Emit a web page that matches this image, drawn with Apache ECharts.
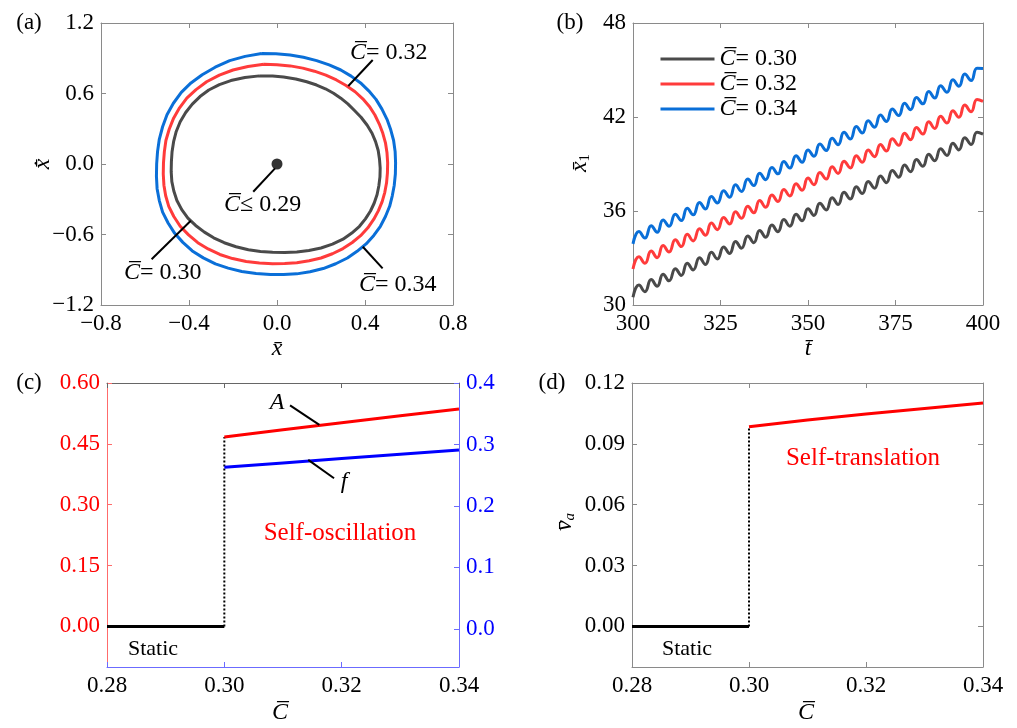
<!DOCTYPE html>
<html><head><meta charset="utf-8">
<script src="https://cdn.jsdelivr.net/npm/echarts@6/dist/echarts.min.js"></script>
<style>html,body{margin:0;padding:0;background:#fff}#c{width:1017px;height:728px}</style>
</head><body><div id="c"></div>
<script>
// ---------- Panel (a): phase portraits (x, xdot) ----------
const orbit030 = [[-0.080,0.750],[-0.020,0.748],[0.030,0.740],[0.085,0.724],[0.135,0.700],[0.180,0.672],[0.220,0.640],[0.257,0.602],[0.290,0.560],[0.322,0.512],[0.350,0.460],[0.382,0.398],[0.410,0.330],[0.432,0.262],[0.448,0.190],[0.460,0.115],[0.466,0.040],[0.469,-0.035],[0.468,-0.110],[0.463,-0.185],[0.455,-0.260],[0.442,-0.332],[0.425,-0.400],[0.402,-0.467],[0.375,-0.530],[0.340,-0.588],[0.300,-0.640],[0.252,-0.682],[0.200,-0.715],[0.145,-0.736],[0.090,-0.748],[0.035,-0.753],[-0.020,-0.752],[-0.075,-0.744],[-0.130,-0.730],[-0.186,-0.704],[-0.240,-0.670],[-0.288,-0.628],[-0.330,-0.580],[-0.370,-0.523],[-0.405,-0.460],[-0.433,-0.388],[-0.455,-0.310],[-0.469,-0.230],[-0.478,-0.150],[-0.481,-0.065],[-0.480,0.020],[-0.477,0.105],[-0.470,0.190],[-0.458,0.277],[-0.440,0.360],[-0.415,0.438],[-0.385,0.510],[-0.350,0.574],[-0.310,0.630],[-0.262,0.675],[-0.210,0.710],[-0.146,0.736],[-0.080,0.750]];
const orbit032 = [[-0.060,0.848],[0.000,0.845],[0.060,0.835],[0.117,0.816],[0.170,0.790],[0.222,0.756],[0.270,0.715],[0.314,0.668],[0.355,0.615],[0.390,0.555],[0.420,0.490],[0.445,0.417],[0.465,0.340],[0.481,0.261],[0.493,0.180],[0.500,0.095],[0.503,0.010],[0.502,-0.075],[0.498,-0.160],[0.490,-0.241],[0.478,-0.320],[0.461,-0.397],[0.440,-0.470],[0.413,-0.543],[0.380,-0.610],[0.342,-0.668],[0.300,-0.720],[0.252,-0.764],[0.200,-0.800],[0.146,-0.824],[0.090,-0.840],[0.035,-0.847],[-0.020,-0.848],[-0.080,-0.843],[-0.140,-0.830],[-0.202,-0.805],[-0.260,-0.770],[-0.313,-0.723],[-0.360,-0.670],[-0.402,-0.603],[-0.440,-0.530],[-0.469,-0.447],[-0.492,-0.360],[-0.506,-0.270],[-0.514,-0.180],[-0.517,-0.085],[-0.516,0.010],[-0.512,0.105],[-0.505,0.200],[-0.490,0.296],[-0.470,0.390],[-0.443,0.478],[-0.410,0.560],[-0.368,0.633],[-0.320,0.700],[-0.262,0.756],[-0.200,0.800],[-0.132,0.830],[-0.060,0.848]];
const orbit034 = [[-0.070,0.940],[-0.005,0.938],[0.060,0.928],[0.120,0.908],[0.180,0.880],[0.237,0.843],[0.290,0.800],[0.337,0.748],[0.380,0.690],[0.417,0.623],[0.450,0.550],[0.477,0.467],[0.500,0.380],[0.517,0.291],[0.530,0.200],[0.537,0.105],[0.539,0.010],[0.538,-0.085],[0.533,-0.180],[0.524,-0.271],[0.512,-0.360],[0.493,-0.447],[0.470,-0.530],[0.440,-0.608],[0.405,-0.680],[0.364,-0.743],[0.320,-0.800],[0.267,-0.849],[0.210,-0.890],[0.150,-0.917],[0.090,-0.935],[0.030,-0.941],[-0.030,-0.940],[-0.095,-0.932],[-0.160,-0.915],[-0.222,-0.886],[-0.280,-0.850],[-0.335,-0.799],[-0.385,-0.740],[-0.428,-0.667],[-0.465,-0.590],[-0.495,-0.502],[-0.520,-0.410],[-0.535,-0.311],[-0.545,-0.210],[-0.548,-0.105],[-0.547,0.000],[-0.543,0.105],[-0.535,0.210],[-0.520,0.317],[-0.500,0.420],[-0.471,0.517],[-0.435,0.610],[-0.391,0.690],[-0.340,0.760],[-0.281,0.824],[-0.215,0.880],[-0.145,0.916],[-0.070,0.940]];
const fixedPoint = [[0,0]];
// annotation pointer segments (data coords)
const ptr032 = [[0.435,0.885],[0.324,0.664]];
const ptr029 = [[-0.108,-0.236],[-0.009,-0.037]];
const ptr030 = [[-0.57,-0.811],[-0.392,-0.483]];
const ptr034 = [[0.48,-0.888],[0.39,-0.704]];

// ---------- Panel (b): displacement vs time ----------
const tB = [300,301.7,303.4,305.2,306.9,308.6,310.3,312.1,313.8,315.5,317.2,319.0,320.7,322.4,324.1,325.9,327.6,329.3,331.0,332.8,334.5,336.2,337.9,339.7,341.4,343.1,344.8,346.6,348.3,350.0,351.7,353.4,355.2,356.9,358.6,360.3,362.1,363.8,365.5,367.2,369.0,370.7,372.4,374.1,375.9,377.6,379.3,381.0,382.8,384.5,386.2,387.9,389.7,391.4,393.1,394.8,396.6,398.3,400.0];
const x030 = [30.50,31.27,30.85,31.62,31.20,31.97,31.54,32.32,31.89,32.67,32.24,33.02,32.59,33.36,32.94,33.71,33.29,34.06,33.63,34.41,33.98,34.76,34.33,35.10,34.68,35.45,35.03,35.80,35.37,36.15,35.72,36.50,36.07,36.85,36.42,37.19,36.77,37.54,37.12,37.89,37.46,38.24,37.81,38.59,38.16,38.93,38.51,39.28,38.86,39.63,39.21,39.98,39.55,40.33,39.90,40.68,40.25,41.02,40.90];
const x032 = [32.30,33.08,32.66,33.44,33.02,33.80,33.38,34.16,33.73,34.51,34.09,34.87,34.45,35.23,34.81,35.59,35.17,35.95,35.53,36.31,35.89,36.67,36.24,37.02,36.60,37.38,36.96,37.74,37.32,38.10,37.68,38.46,38.04,38.82,38.40,39.18,38.75,39.53,39.11,39.89,39.47,40.25,39.83,40.61,40.19,40.97,40.55,41.33,40.91,41.69,41.27,42.04,41.62,42.40,41.98,42.76,42.34,43.12,43.00];
const x034 = [33.90,34.69,34.27,35.06,34.64,35.43,35.02,35.80,35.39,36.18,35.76,36.55,36.13,36.92,36.51,37.29,36.88,37.67,37.25,38.04,37.62,38.41,38.00,38.78,38.37,39.16,38.74,39.53,39.11,39.90,39.49,40.27,39.86,40.64,40.23,41.02,40.60,41.39,40.98,41.76,41.35,42.13,41.72,42.51,42.09,42.88,42.47,43.25,42.84,43.62,43.21,44.00,43.58,44.37,43.96,44.74,44.33,45.11,45.10];
const legendNames = ['0.30','0.32','0.34'];

// ---------- Panels (c),(d): bifurcation ----------
const cStatic = [0.28, 0.30];
const aStatic = [0, 0];
const cOsc = [0.30, 0.31, 0.32, 0.33, 0.34];
const aOsc = [0.467, 0.485, 0.502, 0.519, 0.536];
const fOsc = [0.263, 0.270, 0.277, 0.284, 0.291];
const vaOsc = [0.0984, 0.1018, 0.1047, 0.1074, 0.1101];
const ptrA = [[0.3112,0.545],[0.3162,0.4966]];
const ptrF = [[0.3187,0.245],[0.3143,0.275]];

const tickC_left = [0,0.15,0.30,0.45,0.60];
const tickC_right = [0,0.1,0.2,0.3,0.4];
const tickD = [0,0.03,0.06,0.09,0.12];

// ---------- chart ----------
const FF = 'Liberation Serif, DejaVu Serif, serif';
const FS = 23;
const GRAY = '#8a8a8a';
const chart = echarts.init(document.getElementById('c'));
const minus = s => s.replace('-', '\u2212');
function fmt(d){ return v => minus((Math.abs(v) < 1e-9 ? 0 : v).toFixed(d)); }

function xAx(grid, min, max, interval, dec, opts) {
  opts = opts || {};
  const col = opts.color || GRAY;
  const base = {
    type:'value', gridIndex:grid, min, max, interval,
    splitLine:{show:false},
    axisLine:{show:true, onZero:false, lineStyle:{color:col, width:1}},
    axisTick:{show:true, inside:true, length:5, lineStyle:{color:col}},
  };
  const bottom = Object.assign({}, base, {position:'bottom',
    axisLabel:{show:true, margin:7, fontFamily:FF, fontSize:FS, color:'#000', formatter:fmt(dec)}});
  const topCol = opts.topColor || GRAY;
  const top = Object.assign({}, base, {position:'top',
    axisLine:{show:true, onZero:false, lineStyle:{color:topCol, width:1}},
    axisTick:{show:true, inside:true, length:5, lineStyle:{color:topCol}},
    axisLabel:{show:false}});
  return [bottom, top];
}
function yAx(grid, min, max, spec, dec, pos, opts) {
  opts = opts || {};
  const col = opts.lineColor || GRAY;
  const a = {
    type:'value', gridIndex:grid, min, max, position:pos,
    splitLine:{show:false},
    axisLine:{show:true, onZero:false, lineStyle:{color:col, width:1}},
    axisTick:{show:true, inside:true, length:5, lineStyle:{color:col}},
    axisLabel:{show: !opts.noLabel, margin:7, fontFamily:FF, fontSize:FS, color: opts.labelColor || '#000', formatter:fmt(dec)}
  };
  if (spec.interval !== undefined) a.interval = spec.interval;
  if (spec.custom) { a.axisTick.customValues = spec.custom; a.axisLabel.customValues = spec.custom; }
  return a;
}

const grids = [
  {left:101, top:23, width:352, height:282},
  {left:633, top:23, width:350, height:282},
  {left:107, top:383, width:352, height:284},
  {left:632, top:383, width:351, height:284}
];

const xAxes = [].concat(
  xAx(0, -0.8, 0.8, 0.4, 1),
  xAx(1, 300, 400, 25, 0),
  xAx(2, 0.28, 0.34, 0.02, 2, {color:'#6b6bff', topColor:'#666'}),
  xAx(3, 0.28, 0.34, 0.02, 2)
);
const yAxes = [
  yAx(0, -1.2, 1.2, {interval:0.6}, 1, 'left'),
  yAx(0, -1.2, 1.2, {interval:0.6}, 1, 'right', {noLabel:true}),
  yAx(1, 30, 48, {interval:6}, 0, 'left'),
  yAx(1, 30, 48, {interval:6}, 0, 'right', {noLabel:true}),
  yAx(2, -0.1, 0.6, {custom:tickC_left}, 2, 'left', {lineColor:'#ff6b6b', labelColor:'#ff0000'}),
  yAx(2, -0.062, 0.4, {custom:tickC_right}, 1, 'right', {lineColor:'#6b6bff', labelColor:'#0000ff'}),
  yAx(3, -0.02, 0.12, {custom:tickD}, 2, 'left'),
  yAx(3, -0.02, 0.12, {custom:tickD}, 2, 'right', {noLabel:true})
];

function line(name, data, xi, yi, color, width, extra) {
  return Object.assign({
    type:'line', name, data, xAxisIndex:xi, yAxisIndex:yi,
    symbol:'none', silent:true, animation:false,
    lineStyle:{color, width, join:'round'}, itemStyle:{color}
  }, extra || {});
}
const zip = (a, b) => a.map((v, i) => [v, b[i]]);

const BLK = '#4a4a4a', RED = '#ff3b3b', BLU = '#0a6fd8';
const loopOpt = {smooth:false};

const series = [
  line('a034', orbit034, 0, 0, BLU, 3, loopOpt),
  line('a032', orbit032, 0, 0, RED, 3, loopOpt),
  line('a030', orbit030, 0, 0, BLK, 3, loopOpt),
  {type:'scatter', data:fixedPoint, xAxisIndex:0, yAxisIndex:0, symbolSize:11, itemStyle:{color:'#000'}, silent:true, animation:false},
  line('p1', ptr032, 0, 0, '#000', 2),
  line('p2', ptr029, 0, 0, '#000', 2),
  line('p3', ptr030, 0, 0, '#000', 2),
  line('p4', ptr034, 0, 0, '#000', 2),
  line(legendNames[0], zip(tB, x030), 2, 2, BLK, 3, {smooth:0.5}),
  line(legendNames[1], zip(tB, x032), 2, 2, RED, 3, {smooth:0.5}),
  line(legendNames[2], zip(tB, x034), 2, 2, BLU, 3, {smooth:0.5}),
  line('cs', zip(cStatic, aStatic), 4, 4, '#000', 3),
  line('cd', [[cOsc[0], 0], [cOsc[0], aOsc[0]]], 4, 4, '#000', 2, {lineStyle:{color:'#000', width:2, type:'dotted'}}),
  line('cA', zip(cOsc, aOsc), 4, 4, '#ff0000', 3),
  line('cF', zip(cOsc, fOsc), 4, 5, '#0000ff', 3),
  line('pA', ptrA, 4, 4, '#000', 2),
  line('pF', ptrF, 4, 5, '#000', 2),
  line('ds', zip(cStatic, aStatic), 6, 6, '#000', 3),
  line('dd', [[cOsc[0], 0], [cOsc[0], vaOsc[0]]], 6, 6, '#000', 2, {lineStyle:{color:'#000', width:2, type:'dotted'}}),
  line('dv', zip(cOsc, vaOsc), 6, 6, '#ff0000', 3)
];

const richBase = {
  i:{fontStyle:'italic', fontFamily:FF, fontSize:24, fill:'#000'},
  r:{fontFamily:FF, fontSize:24, fill:'#000'}
};
function txt(x, y, text, o) {
  o = o || {};
  return {type:'text', x, y, rotation:o.rot || 0, z:100, silent:true,
    style:{text, fontFamily:FF, fontSize:o.size || 24, fontStyle:o.italic ? 'italic' : 'normal',
      fill:o.color || '#000', align:o.align || 'center', verticalAlign:'middle', rich:o.rich}};
}
const cLab = v => '{i|C\u0305}{r|' + v + '}';

const graphics = [
  txt(29, 23, '(a)', {size:23}),
  txt(570, 23, '(b)', {size:23}),
  txt(29, 383, '(c)', {size:23}),
  txt(552, 383, '(d)', {size:23}),
  // axis names
  txt(277, 349, 'x\u0304', {italic:true, size:24}),
  txt(808, 349, 't\u0304', {italic:true, size:24}),
  txt(280, 713, 'C\u0305', {italic:true, size:24}),
  txt(806, 713, 'C\u0305', {italic:true, size:24}),
  txt(43, 164, 'x\u0304\u0307', {italic:true, size:24, rot:Math.PI/2}),
  txt(580, 163, '{i|x\u0304}{s|1}', {rot:Math.PI/2, rich:{i:{fontStyle:'italic', fontFamily:FF, fontSize:24}, s:{fontFamily:FF, fontSize:15, padding:[10,0,0,0]}}}),
  txt(565, 522, '{i|v\u0304}{s|a}', {rot:Math.PI/2, rich:{i:{fontStyle:'italic', fontFamily:FF, fontSize:24}, s:{fontStyle:'italic', fontFamily:FF, fontSize:15, padding:[10,0,0,0]}}}),
  // panel (a) annotations
  txt(350, 53, cLab('= 0.32'), {align:'left', rich:richBase}),
  txt(224, 205, cLab('\u2264 0.29'), {align:'left', rich:richBase}),
  txt(124, 273, cLab('= 0.30'), {align:'left', rich:richBase}),
  txt(359, 285, cLab('= 0.34'), {align:'left', rich:richBase}),
  // panel (c)
  txt(277, 403, 'A', {italic:true, size:24}),
  txt(344, 482, 'f', {italic:true, size:24}),
  txt(340, 533, 'Self-oscillation', {size:25, color:'#ff0000'}),
  txt(153, 649, 'Static', {size:22}),
  // panel (d)
  txt(863, 458, 'Self-translation', {size:25, color:'#ff0000'}),
  txt(687, 649, 'Static', {size:22})
];

chart.setOption({
  animation:false,
  backgroundColor:'#fff',
  grid:grids,
  xAxis:xAxes,
  yAxis:yAxes,
  legend:{
    data:legendNames, orient:'vertical', left:654, top:42,
    itemWidth:54, itemHeight:12, itemGap:1, selectedMode:false,
    itemStyle:{opacity:0},
    lineStyle:{width:3},
    textStyle:{fontFamily:FF, fontSize:24, color:'#000', rich:{
      i:{fontStyle:'italic', fontFamily:FF, fontSize:24, color:'#000'},
      r:{fontFamily:FF, fontSize:24, color:'#000'}}},
    formatter: n => '{i|C\u0305}{r|= ' + n + '}'
  },
  series,
  graphic:graphics
});
</script>
</body></html>
